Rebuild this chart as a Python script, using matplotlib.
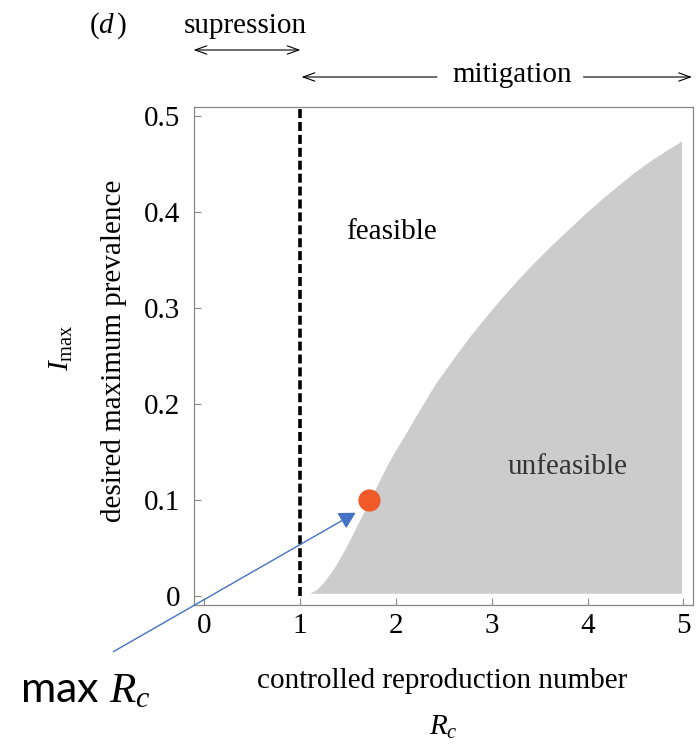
import matplotlib
matplotlib.use("Agg")
import matplotlib.pyplot as plt

plt.rcParams["font.family"] = ["Liberation Serif", "DejaVu Serif"]
plt.rcParams["mathtext.fontset"] = "custom"
plt.rcParams["mathtext.rm"] = "Liberation Serif"
plt.rcParams["mathtext.it"] = "Liberation Serif:italic"
plt.rcParams["mathtext.bf"] = "Liberation Serif:bold"
plt.rcParams["lines.scale_dashes"] = False

# Feasibility boundary: largest controlled reproduction number for a given peak prevalence
rc_boundary = [1.10, 1.17, 1.24, 1.30, 1.37, 1.44, 1.51, 1.58, 1.66, 1.75,
               1.83, 1.92, 2.00, 2.08, 2.25, 2.42, 2.60, 2.77, 2.94, 3.10,
               3.27, 3.43, 3.60, 3.78, 3.95, 4.13, 4.30, 4.47, 4.65, 4.82, 4.98]
imax_boundary = [0.0025, 0.006, 0.013, 0.021, 0.031, 0.043, 0.056, 0.070, 0.086, 0.104,
                 0.120, 0.138, 0.152, 0.165, 0.194, 0.222, 0.247, 0.270, 0.291, 0.310,
                 0.329, 0.346, 0.363, 0.380, 0.396, 0.412, 0.426, 0.440, 0.453, 0.464, 0.474]
region_floor = 0.0025

# Suppression / mitigation threshold
rc_threshold = 1.0

# Chosen target and resulting max R_c
max_rc = 1.72
imax_target = 0.10

x_ticks = [0, 1, 2, 3, 4, 5]
y_ticks = [0, 0.1, 0.2, 0.3, 0.4, 0.5]
y_ticklabels = ["0", "0.1", "0.2", "0.3", "0.4", "0.5"]

W, H = 697, 745
fig = plt.figure(figsize=(W / 100, H / 100), dpi=100)


def fpos(x, y):
    return x / W, 1 - y / H


ax = fig.add_axes([194.3 / W, 1 - 605 / H, (693 - 194.3) / W, (605 - 106.7) / H])
ax.set_xlim(-0.1, 5.1)
ax.set_ylim(-0.0097, 0.5097)

# unfeasible region
ax.fill_between(rc_boundary, region_floor, imax_boundary, color="#cccccc", lw=0, zorder=1)

# threshold line
ax.vlines(rc_threshold, 0, 0.5097, colors="black", lw=2.6, linestyles=(0, (6.5, 2.8)), zorder=2)

# target point
ax.plot([max_rc], [imax_target], "o", ms=16, color="#ef5a28", mec="none", zorder=4)

ax.set_xticks(x_ticks)
ax.set_yticks(y_ticks)
ax.set_yticklabels(y_ticklabels)
ax.tick_params(direction="in", length=5, width=0.8, color="#888888",
               labelsize=21, labelcolor="black")
ax.tick_params(axis="x", pad=6)
ax.tick_params(axis="y", pad=10)
for s in ax.spines.values():
    s.set_color("#888888")
    s.set_linewidth(0.9)

ax.text(1.953, 0.3716, "feasible", fontsize=21, ha="center", va="baseline", color="black")
ax.text(3.797, 0.1268, "unfeasible", fontsize=21, ha="center", va="baseline", color="#333333")

# axis labels
fig.text(*fpos(442.5, 688), "controlled reproduction number", fontsize=21,
         ha="center", va="baseline")
fig.text(*fpos(443, 735), r"$R_c$", fontsize=21, ha="center", va="baseline")
fig.text(*fpos(114, 351), "desired maximum prevalence", fontsize=21,
         ha="center", va="center", rotation=90)
fig.text(*fpos(61, 348), r"$I_{\rm max}$", fontsize=21, ha="center", va="center", rotation=90)

# panel tag and regime annotations
fig.text(*fpos(108, 33), r"$(d\,)$", fontsize=21, ha="center", va="baseline")
fig.text(*fpos(245, 33), "supression", fontsize=21, ha="center", va="baseline")
fig.text(*fpos(512, 82), "mitigation", fontsize=21, ha="center", va="baseline")

arrow_kw = dict(color="black", lw=0.8, shrinkA=0, shrinkB=0)
fig.add_artist(matplotlib.patches.FancyArrowPatch(
    fpos(193.5, 50), fpos(300.5, 50), transform=fig.transFigure,
    arrowstyle="<->,head_length=0.7,head_width=0.25", mutation_scale=12, **arrow_kw))
fig.add_artist(matplotlib.patches.FancyArrowPatch(
    fpos(437, 77), fpos(301.5, 77), transform=fig.transFigure,
    arrowstyle="->,head_length=0.7,head_width=0.25", mutation_scale=12, **arrow_kw))
fig.add_artist(matplotlib.patches.FancyArrowPatch(
    fpos(583.5, 77), fpos(692, 77), transform=fig.transFigure,
    arrowstyle="->,head_length=0.7,head_width=0.25", mutation_scale=12, **arrow_kw))

# pointer to the max R_c point
ax.annotate("", xy=(1.583, 0.0865), xycoords="data",
            xytext=fpos(113.3, 651.7), textcoords="figure fraction",
            arrowprops=dict(arrowstyle="-|>,head_length=1.0,head_width=0.55",
                            mutation_scale=10, color="#4472c4", lw=1.0,
                            shrinkA=0, shrinkB=0),
            annotation_clip=False, zorder=5)
fig.text(*fpos(20, 702), r"max $R_c$", fontsize=31, family=["Lato", "DejaVu Sans"],
         ha="left", va="baseline", color="black")

fig.savefig("out.png", dpi=100)
